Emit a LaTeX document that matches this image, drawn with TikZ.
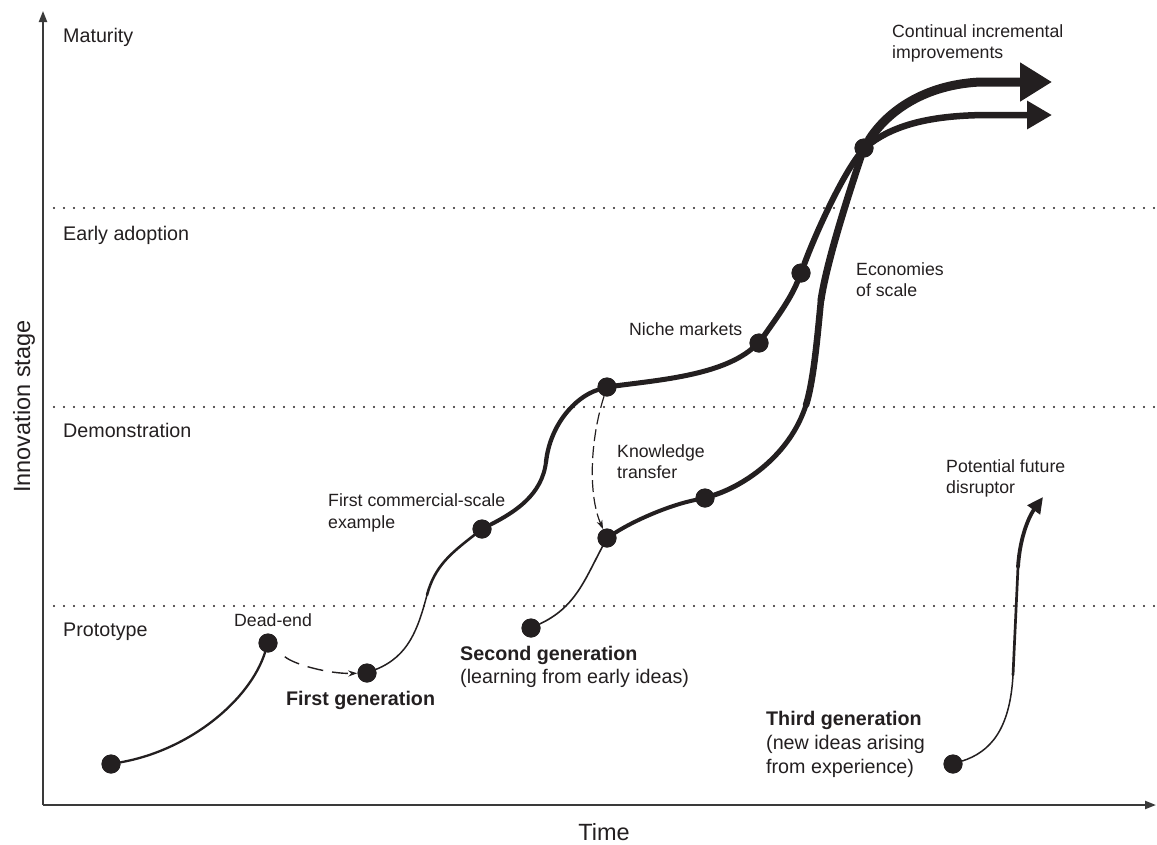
\documentclass[tikz,border=0pt]{standalone}
\usepackage{fontspec}
\setmainfont{Liberation Sans}
\usetikzlibrary{arrows.meta}
\definecolor{ink}{HTML}{231F20}
\definecolor{axisgray}{HTML}{3A3A3A}
\begin{document}
\begin{tikzpicture}[x=1pt,y=1pt,
  dot/.style={circle,fill=ink,inner sep=0pt,minimum size=19pt},
  stage/.style={anchor=base west,inner sep=0pt,font=\fontsize{19.7}{23}\selectfont,text=ink},
  lbl/.style={anchor=base west,inner sep=0pt,font=\fontsize{17.7}{21}\selectfont,text=ink},
  gen/.style={anchor=base west,inner sep=0pt,font=\fontsize{19.7}{23}\selectfont,text=ink},
  genb/.style={anchor=base west,inner sep=0pt,font=\fontsize{19.7}{23}\selectfont\bfseries,text=ink},
  axtitle/.style={anchor=base,inner sep=0pt,font=\fontsize{23.5}{27}\selectfont,text=ink},
  curve/.style={draw=ink,line cap=round,line join=round},
  stagesep/.style={draw=ink,line width=2.4pt,dash pattern=on 0pt off 10pt,line cap=round},
  axisline/.style={draw=axisgray,line width=2pt,-{Triangle[length=11pt,width=8pt]}},
  dashedarrow/.style={draw=ink,line width=1.4pt,-{Stealth[length=9pt,width=6pt]}}
]
\useasboundingbox (0,0) rectangle (1157,-844);

% stage separators
\coordinate (s1a) at (54,-208); \coordinate (s1b) at (1157,-208);
\coordinate (s2a) at (54,-407); \coordinate (s2b) at (1157,-407);
\coordinate (s3a) at (54,-606); \coordinate (s3b) at (1157,-606);
\draw[stagesep] (s1a) -- (s1b);
\draw[stagesep] (s2a) -- (s2b);
\draw[stagesep] (s3a) -- (s3b);

% axes
\coordinate (O) at (43,-805);
\coordinate (Ytop) at (43,-11);
\coordinate (Xend) at (1156,-805);
\draw[axisline] (O) -- (Ytop);
\draw[axisline] (O) -- (Xend);

% stage labels
\node[stage] (lmat) at (63,-42.7) {Maturity};
\node[stage] (lea) at (63,-240) {Early adoption};
\node[stage] (ldem) at (63,-437.7) {Demonstration};
\node[stage] (lpro) at (63,-636) {Prototype};
\node[axtitle,rotate=90] (ytitle) at (30,-406.5) {Innovation stage};
\node[axtitle] (xtitle) at (604,-840) {Time};

% dots
\node[dot] (A) at (111,-764) {};
\node[dot] (D) at (268,-643) {};
\node[dot] (F1) at (367,-673) {};
\node[dot] (C) at (482,-529) {};
\node[dot] (T) at (607,-387) {};
\node[dot] (N) at (759,-343) {};
\node[dot] (N2) at (801,-273) {};
\node[dot] (M) at (864,-148) {};
\node[dot] (S) at (531,-628) {};
\node[dot] (K) at (607,-538) {};
\node[dot] (K2) at (705,-498) {};
\node[dot] (G3) at (953,-764) {};

\coordinate (f1a) at (427,-595);
\coordinate (f1b) at (546,-462);
\coordinate (p2) at (806,-405);
\coordinate (q2) at (821,-300);
\coordinate (g3a) at (1013,-675);
\coordinate (g3b) at (1018,-567);
\coordinate (g3tip) at (1043,-497);
\coordinate (lowa) at (990,-115);
\coordinate (lowtip) at (1052,-115);
\coordinate (upa) at (980,-82);
\coordinate (uptip) at (1052,-82);

% first generation
\draw[curve,line width=2.3pt] (A) .. controls (190,-750) and (250,-700) .. (D);
\draw[dashedarrow,dash pattern=on 16pt off 9pt,shorten <=12pt] (D) .. controls (295,-665) and (330,-674) .. (F1);
\draw[curve,line width=1.5pt] (F1) to[out=22,in=-105] (f1a);
\draw[curve,line width=2.6pt] (f1a) to[out=75,in=218] (C);
\draw[curve,line width=4pt] (C) .. controls (515,-512) and (542,-495) .. (f1b);
\draw[curve,line width=4.3pt] (f1b) .. controls (550,-425) and (575,-397) .. (T);
\draw[curve,line width=5pt] (T) .. controls (660,-380) and (720,-375) .. (N);
\draw[curve,line width=5.5pt] (N) .. controls (775,-320) and (790,-300) .. (N2);
\draw[curve,line width=6pt] (N2) .. controls (815,-235) and (840,-180) .. (M);
\draw[curve,line width=6.5pt,-{Triangle[length=25pt,width=27pt]}] (M) .. controls (900,-122) and (940,-115) .. (lowa) -- (lowtip);

% second generation
\draw[curve,line width=1.6pt] (S) to[out=25,in=-118] (K);
\draw[dashedarrow,line width=1.2pt,dash pattern=on 12pt off 5pt] (T) .. controls (590,-440) and (588,-495) .. (K);
\draw[curve,line width=4pt] (K) .. controls (635,-520) and (670,-505) .. (K2);
\draw[curve,line width=5pt] (K2) .. controls (745,-485) and (790,-455) .. (p2);
\draw[curve,line width=6.5pt] (p2) .. controls (814,-380) and (818,-330) .. (q2);
\draw[curve,line width=7pt] (q2) .. controls (827,-260) and (850,-190) .. (M);
\draw[curve,line width=9pt,-{Triangle[length=32pt,width=37pt]}] (M) .. controls (885,-115) and (920,-85) .. (upa) -- (uptip);

% third generation
\draw[curve,line width=1.5pt] (G3) .. controls (990,-752) and (1010,-730) .. (g3a);
\draw[curve,line width=2.7pt] (g3a) -- (g3b);
\draw[curve,line width=3.8pt,-{Triangle[length=16pt,width=15pt]}] (g3b) .. controls (1020,-535) and (1030,-515) .. (g3tip);

% redraw dots on top
\foreach \p in {A,D,F1,C,T,N,N2,M,S,K,K2,G3} {\fill[ink] (\p.center) circle (9.5pt);}

% labels
\node[lbl] (tdead) at (234,-626.7) {Dead-end};
\node[genb] (tfirst) at (286,-705) {First generation};
\node[lbl] (tfc1) at (328,-506.7) {First commercial-scale};
\node[lbl] (tfc2) at (328,-528) {example};
\node[lbl] (tniche) at (629,-335) {Niche markets};
\node[lbl] (tkn1) at (617,-457.3) {Knowledge};
\node[lbl] (tkn2) at (617,-478.3) {transfer};
\node[lbl] (teco1) at (856,-275) {Economies};
\node[lbl] (teco2) at (856,-296) {of scale};
\node[lbl] (tcont1) at (892,-37) {Continual incremental};
\node[lbl] (tcont2) at (892,-58) {improvements};
\node[lbl] (tpot1) at (946,-472.3) {Potential future};
\node[lbl] (tpot2) at (946,-493.3) {disruptor};
\node[genb] (tsec1) at (460,-660) {Second generation};
\node[gen] (tsec2) at (460,-683) {(learning from early ideas)};
\node[genb] (tthird1) at (766,-725) {Third generation};
\node[gen] (tthird2) at (766,-749) {(new ideas arising};
\node[gen] (tthird3) at (766,-773) {from experience)};
\end{tikzpicture}
\end{document}
